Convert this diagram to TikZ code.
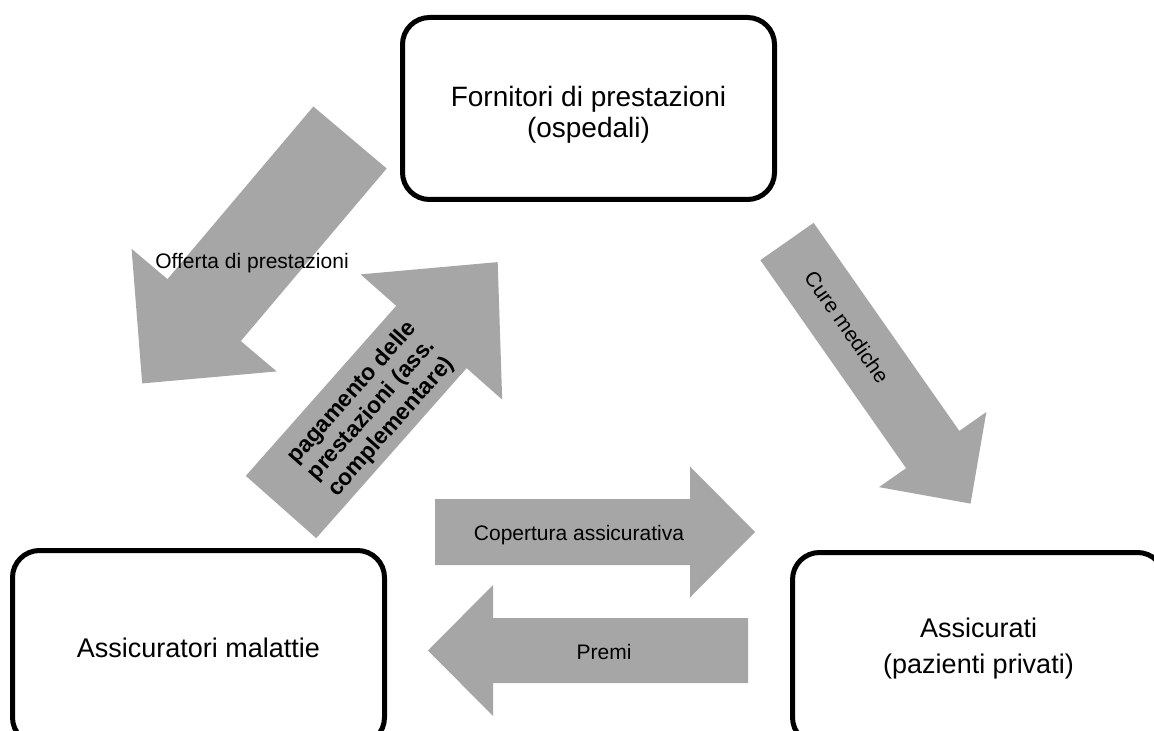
\documentclass[tikz,border=0pt]{standalone}
\usepackage{fontspec}
\setmainfont{Liberation Sans}
\usepackage{xcolor}
\usepackage{tikz}
\definecolor{flowgray}{HTML}{A6A6A6}

\tikzset{
  party/.style={draw, line width=2.5pt, rounded corners=13.5pt,
    minimum width=186pt, inner sep=0pt, align=center},
  flowlabel/.style={inner sep=0pt, align=center,
    font=\fontsize{10.5}{11}\selectfont},
  % length / shaft width / head width / head length
  pics/fatarrow/.style n args={4}{code={%
    \fill[flowgray] (0,-#2/2) -- ({#1-#4},-#2/2) -- ({#1-#4},-#3/2) -- (#1,0)
      -- ({#1-#4},#3/2) -- ({#1-#4},#2/2) -- (0,#2/2) -- cycle;
  }},
}

\begin{document}
\begin{tikzpicture}[x=0.5pt, y=-0.5pt]
  \useasboundingbox (0,0) rectangle (1154,731);
  \clip (0,0) rectangle (1154,731);

  % the three parties
  \node[party, minimum height=91pt] (fornitori) at (588.5,108.5) {};
  \node[inner sep=0pt, align=center, font=\fontsize{14}{15.5}\selectfont]
    (fornitoritext) at ([yshift=-3pt]fornitori.center)
    {Fornitori di prestazioni\\(ospedali)};
  \node[party, minimum height=97pt, font=\fontsize{13.5}{15}\selectfont]
    (assicuratori) at (198.5,647.5) {Assicuratori malattie};
  \node[party, minimum height=96pt, font=\fontsize{13.5}{18.3}\selectfont]
    (assicurati) at (978.5,648.5) {Assicurati\\(pazienti privati)};

  % flows, placed at their tails
  \coordinate (offerta) at (350,137.5);
  \coordinate (pagamento) at (281,507);
  \coordinate (cure) at (787,241.5);
  \coordinate (copertura) at (435,532);
  \coordinate (premi) at (748,650.5);

  \pic[rotate=-130.2] at (offerta) {fatarrow={322}{96}{190}{96}};
  \pic[rotate=48.5] at (pagamento) {fatarrow={327}{94}{189}{100}};
  \pic[rotate=-55] at (cure) {fatarrow={320}{65}{131}{66}};
  \pic at (copertura) {fatarrow={320}{66}{131}{65}};
  \pic[rotate=180] at (premi) {fatarrow={320}{65}{131}{65}};

  \node[flowlabel] (offertatext) at (252,263) {Offerta di prestazioni};
  \node[flowlabel, rotate=48.5, font=\fontsize{11.5}{13}\selectfont\bfseries]
    (pagamentotext) at (372,410) {pagamento delle\\prestazioni (ass.\\complementare)};
  \node[flowlabel, rotate=-55] (curetext) at (847,327) {Cure mediche};
  \node[flowlabel] (coperturatext) at (579,535) {Copertura assicurativa};
  \node[flowlabel] (premitext) at (604,652) {Premi};
\end{tikzpicture}
\end{document}
